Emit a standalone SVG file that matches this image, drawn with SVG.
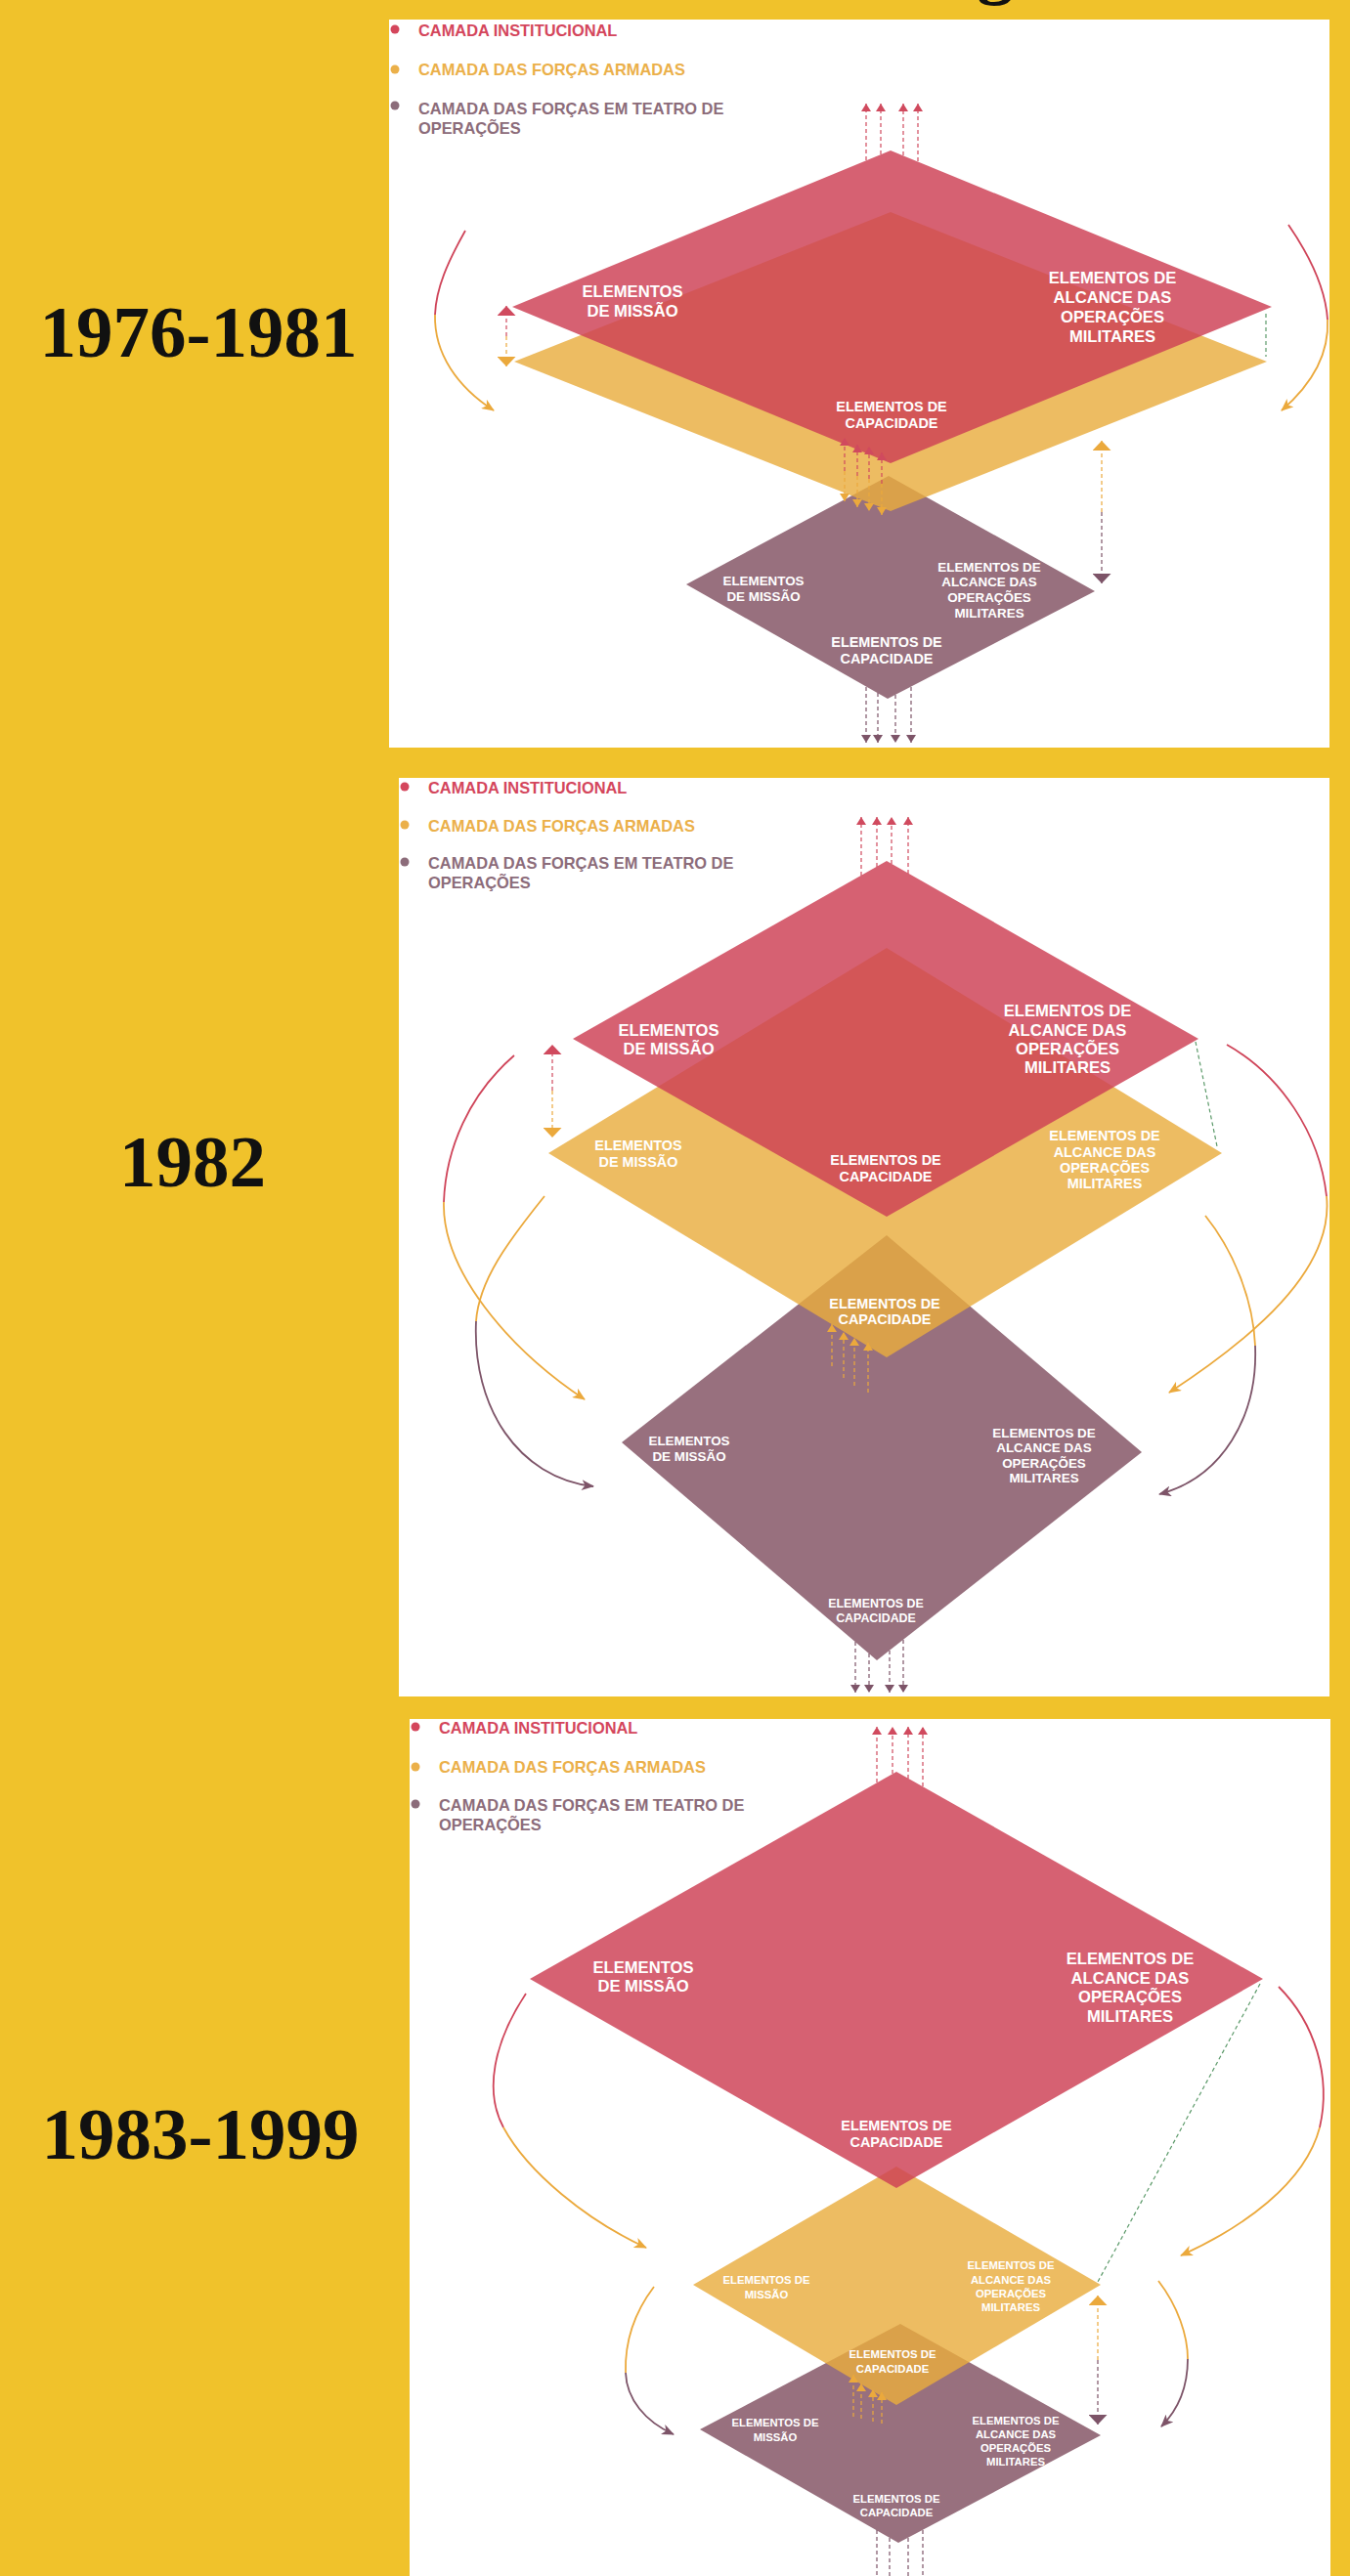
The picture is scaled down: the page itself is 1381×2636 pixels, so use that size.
<svg xmlns="http://www.w3.org/2000/svg" width="1381" height="2636" viewBox="0 0 1381 2636">
<style>
.year{font-family:"Liberation Serif","Times New Roman",serif;font-weight:bold;font-size:75px;fill:#111;text-anchor:middle}
.lg{font-family:"Liberation Sans",Arial,sans-serif;font-weight:bold;font-size:16.4px}
.lr{fill:#D4465C}.ly{fill:#EBB04A}.lp{fill:#8C6C7A}
.t{font-family:"Liberation Sans",Arial,sans-serif;font-weight:bold;fill:#fff;text-anchor:middle}
.s17{font-size:16.6px}.s14{font-size:14.4px}.s13{font-size:13.4px}.s12{font-size:12.4px}.s11{font-size:11.3px}
.red{fill:#CE4155;fill-opacity:.83}
.yel{fill:#E9AC3E;fill-opacity:.81}
.pur{fill:#98707E}
.dr{stroke:#D04A5E;stroke-width:1.2;stroke-dasharray:4 3;fill:none}
.dy{stroke:#EBA93C;stroke-width:1.2;stroke-dasharray:4 3;fill:none}
.dp{stroke:#7D5468;stroke-width:1.2;stroke-dasharray:4 3;fill:none}
.dg{stroke:#5C9A6A;stroke-width:1.2;stroke-dasharray:4 3;fill:none}
.cr{stroke:#CF4459;stroke-width:1.8;fill:none}
.cy{stroke:#EBA93C;stroke-width:1.8;fill:none}
.cp{stroke:#7D5468;stroke-width:1.8;fill:none}
</style>
<defs>
<marker id="sr" markerUnits="userSpaceOnUse" markerWidth="8" markerHeight="10" viewBox="0 0 8 10" refX="8" refY="5" orient="auto"><path d="M0,0 L8,5 L0,10 z" fill="#D04A5E"/></marker>
<marker id="sy" markerUnits="userSpaceOnUse" markerWidth="8" markerHeight="10" viewBox="0 0 8 10" refX="8" refY="5" orient="auto"><path d="M0,0 L8,5 L0,10 z" fill="#EBA93C"/></marker>
<marker id="sp" markerUnits="userSpaceOnUse" markerWidth="8" markerHeight="10" viewBox="0 0 8 10" refX="8" refY="5" orient="auto"><path d="M0,0 L8,5 L0,10 z" fill="#7D5468"/></marker>
<marker id="br" markerUnits="userSpaceOnUse" markerWidth="10" markerHeight="19" viewBox="0 0 10 19" refX="10" refY="9.5" orient="auto"><path d="M0,0 L10,9.5 L0,19 z" fill="#D04A5E"/></marker>
<marker id="by" markerUnits="userSpaceOnUse" markerWidth="10" markerHeight="19" viewBox="0 0 10 19" refX="10" refY="9.5" orient="auto"><path d="M0,0 L10,9.5 L0,19 z" fill="#EBA93C"/></marker>
<marker id="bp" markerUnits="userSpaceOnUse" markerWidth="10" markerHeight="19" viewBox="0 0 10 19" refX="10" refY="9.5" orient="auto"><path d="M0,0 L10,9.5 L0,19 z" fill="#7D5468"/></marker>
<marker id="ay" markerUnits="userSpaceOnUse" markerWidth="13" markerHeight="11" viewBox="0 0 13 11" refX="12" refY="5.5" orient="auto"><path d="M0,0 L13,5.5 L0,11 L3.5,5.5 z" fill="#EBA93C"/></marker>
<marker id="ap" markerUnits="userSpaceOnUse" markerWidth="13" markerHeight="11" viewBox="0 0 13 11" refX="12" refY="5.5" orient="auto"><path d="M0,0 L13,5.5 L0,11 L3.5,5.5 z" fill="#7D5468"/></marker>
</defs>
<rect x="0" y="0" width="1381" height="2636" fill="#F0C22B"/>
<text class="year" x="1018" y="-10">g</text>
<g id="panel-1976-1981">
<rect x="398" y="20" width="962" height="745" fill="#fff"/>
<text class="year" x="203" y="365">1976-1981</text>
<g id="legend1">
<circle cx="404" cy="30" r="4.5" fill="#D4465C"/><text class="lg lr" x="428" y="37">CAMADA INSTITUCIONAL</text>
<circle cx="404" cy="71" r="4.5" fill="#EBB04A"/><text class="lg ly" x="428" y="77">CAMADA DAS FORÇAS ARMADAS</text>
<circle cx="404" cy="108" r="4.5" fill="#8C6C7A"/><text class="lg lp" x="428" y="117">CAMADA DAS FORÇAS EM TEATRO DE</text><text class="lg lp" x="428" y="137">OPERAÇÕES</text>
</g>
<g id="p1-teatro"><polygon class="pur" points="909,487 1120,605 908,715 702,598"/>
<text class="t s13" x="781" y="599">ELEMENTOS</text><text class="t s13" x="781" y="615">DE MISSÃO</text>
<text class="t s13" x="1012" y="585">ELEMENTOS DE</text><text class="t s13" x="1012" y="600">ALCANCE DAS</text><text class="t s13" x="1012" y="616">OPERAÇÕES</text><text class="t s13" x="1012" y="632">MILITARES</text>
<text class="t s14" x="907" y="662">ELEMENTOS DE</text><text class="t s14" x="907" y="679">CAPACIDADE</text></g>
<g id="p1-forcas"><polygon class="yel" points="911,217 1296,370 911,523 526,370"/></g>
<g id="p1-institucional"><polygon class="red" points="911,154 1301,314 911,474 524,314"/>
<text class="t s17" x="647" y="304">ELEMENTOS</text><text class="t s17" x="647" y="324">DE MISSÃO</text>
<text class="t s17" x="1138" y="290">ELEMENTOS DE</text><text class="t s17" x="1138" y="310">ALCANCE DAS</text><text class="t s17" x="1138" y="330">OPERAÇÕES</text><text class="t s17" x="1138" y="350">MILITARES</text>
<text class="t s14" x="912" y="421">ELEMENTOS DE</text><text class="t s14" x="912" y="438">CAPACIDADE</text></g>
<g id="p1-connectors">
<line class="dr" x1="886" y1="164" x2="886" y2="106" marker-end="url(#sr)"/>
<line class="dr" x1="901" y1="158" x2="901" y2="106" marker-end="url(#sr)"/>
<line class="dr" x1="924" y1="159" x2="924" y2="106" marker-end="url(#sr)"/>
<line class="dr" x1="939" y1="165" x2="939" y2="106" marker-end="url(#sr)"/>
<line class="dr" x1="518" y1="344" x2="518" y2="313" marker-end="url(#br)"/>
<line class="dy" x1="518" y1="344" x2="518" y2="375" marker-end="url(#by)"/>
<line class="dg" x1="1295" y1="321" x2="1295" y2="365"/>
<path class="cr" d="M476,236 C458,268 446,295 445,322"/>
<path class="cy" d="M445,322 C444,362 468,396 505,420" marker-end="url(#ay)"/>
<path class="cr" d="M1318,230 C1340,262 1356,295 1358,327"/>
<path class="cy" d="M1358,327 C1360,365 1340,395 1311,420" marker-end="url(#ay)"/>
<line class="dr" x1="864" y1="482" x2="864" y2="448" marker-end="url(#sr)"/>
<line class="dy" x1="864" y1="482" x2="864" y2="513" marker-end="url(#sy)"/>
<line class="dr" x1="877" y1="487" x2="877" y2="455" marker-end="url(#sr)"/>
<line class="dy" x1="877" y1="487" x2="877" y2="519" marker-end="url(#sy)"/>
<line class="dr" x1="889" y1="490" x2="889" y2="457" marker-end="url(#sr)"/>
<line class="dy" x1="889" y1="490" x2="889" y2="523" marker-end="url(#sy)"/>
<line class="dr" x1="902" y1="495" x2="902" y2="463" marker-end="url(#sr)"/>
<line class="dy" x1="902" y1="495" x2="902" y2="527" marker-end="url(#sy)"/>
<line class="dy" x1="1127" y1="524" x2="1127" y2="451" marker-end="url(#by)"/>
<line class="dp" x1="1127" y1="524" x2="1127" y2="597" marker-end="url(#bp)"/>
<line class="dp" x1="886" y1="703" x2="886" y2="760" marker-end="url(#sp)"/>
<line class="dp" x1="898" y1="709" x2="898" y2="760" marker-end="url(#sp)"/>
<line class="dp" x1="916" y1="711" x2="916" y2="760" marker-end="url(#sp)"/>
<line class="dp" x1="932" y1="703" x2="932" y2="760" marker-end="url(#sp)"/>
</g>
</g>
<g id="panel-1982">
<rect x="408" y="796" width="952" height="940" fill="#fff"/>
<text class="year" x="197" y="1214">1982</text>
<g id="legend2">
<circle cx="414" cy="805" r="4.5" fill="#D4465C"/><text class="lg lr" x="438" y="812">CAMADA INSTITUCIONAL</text>
<circle cx="414" cy="844" r="4.5" fill="#EBB04A"/><text class="lg ly" x="438" y="851">CAMADA DAS FORÇAS ARMADAS</text>
<circle cx="414" cy="882" r="4.5" fill="#8C6C7A"/><text class="lg lp" x="438" y="889">CAMADA DAS FORÇAS EM TEATRO DE</text><text class="lg lp" x="438" y="909">OPERAÇÕES</text>
</g>
<g id="p2-teatro"><polygon class="pur" points="907,1264 1168,1486 897,1699 636,1476"/>
<text class="t s13" x="705" y="1479">ELEMENTOS</text><text class="t s13" x="705" y="1495">DE MISSÃO</text>
<text class="t s13" x="1068" y="1471">ELEMENTOS DE</text><text class="t s13" x="1068" y="1486">ALCANCE DAS</text><text class="t s13" x="1068" y="1502">OPERAÇÕES</text><text class="t s13" x="1068" y="1517">MILITARES</text>
<text class="t s12" x="896" y="1645">ELEMENTOS DE</text><text class="t s12" x="896" y="1660">CAPACIDADE</text></g>
<g id="p2-forcas"><polygon class="yel" points="907,970 1250,1180 907,1389 561,1180"/>
<text class="t s14" x="653" y="1177">ELEMENTOS</text><text class="t s14" x="653" y="1194">DE MISSÃO</text>
<text class="t s14" x="1130" y="1167">ELEMENTOS DE</text><text class="t s14" x="1130" y="1184">ALCANCE DAS</text><text class="t s14" x="1130" y="1200">OPERAÇÕES</text><text class="t s14" x="1130" y="1216">MILITARES</text>
<text class="t s14" x="905" y="1339">ELEMENTOS DE</text><text class="t s14" x="905" y="1355">CAPACIDADE</text></g>
<g id="p2-institucional"><polygon class="red" points="907,881 1226,1063 907,1245 586,1063"/>
<text class="t s17" x="684" y="1060">ELEMENTOS</text><text class="t s17" x="684" y="1079">DE MISSÃO</text>
<text class="t s17" x="1092" y="1040">ELEMENTOS DE</text><text class="t s17" x="1092" y="1060">ALCANCE DAS</text><text class="t s17" x="1092" y="1079">OPERAÇÕES</text><text class="t s17" x="1092" y="1098">MILITARES</text>
<text class="t s14" x="906" y="1192">ELEMENTOS DE</text><text class="t s14" x="906" y="1209">CAPACIDADE</text></g>
<g id="p2-connectors">
<line class="dr" x1="881" y1="896" x2="881" y2="836" marker-end="url(#sr)"/>
<line class="dr" x1="897" y1="887" x2="897" y2="836" marker-end="url(#sr)"/>
<line class="dr" x1="912" y1="884" x2="912" y2="836" marker-end="url(#sr)"/>
<line class="dr" x1="929" y1="894" x2="929" y2="836" marker-end="url(#sr)"/>
<line class="dr" x1="565" y1="1116" x2="565" y2="1069" marker-end="url(#br)"/>
<line class="dy" x1="565" y1="1116" x2="565" y2="1164" marker-end="url(#by)"/>
<line class="dg" x1="1223" y1="1066" x2="1245" y2="1173"/>
<path class="cr" d="M526,1080 C480,1120 456,1175 454,1230"/>
<path class="cy" d="M454,1230 C452,1300 520,1380 598,1432" marker-end="url(#ay)"/>
<path class="cy" d="M557,1224 C520,1270 490,1310 487,1352"/>
<path class="cp" d="M487,1352 C483,1440 530,1512 607,1521" marker-end="url(#ap)"/>
<path class="cr" d="M1255,1069 C1310,1100 1350,1160 1357,1224"/>
<path class="cy" d="M1357,1224 C1365,1300 1280,1370 1196,1425" marker-end="url(#ay)"/>
<path class="cy" d="M1233,1244 C1262,1280 1282,1330 1284,1377"/>
<path class="cp" d="M1284,1377 C1287,1450 1250,1512 1186,1529" marker-end="url(#ap)"/>
<line class="dy" x1="851" y1="1398" x2="851" y2="1355" marker-end="url(#sy)"/>
<line class="dy" x1="863" y1="1410" x2="863" y2="1363" marker-end="url(#sy)"/>
<line class="dy" x1="874" y1="1418" x2="874" y2="1369" marker-end="url(#sy)"/>
<line class="dy" x1="888" y1="1425" x2="888" y2="1374" marker-end="url(#sy)"/>
<line class="dp" x1="875" y1="1680" x2="875" y2="1732" marker-end="url(#sp)"/>
<line class="dp" x1="889" y1="1692" x2="889" y2="1732" marker-end="url(#sp)"/>
<line class="dp" x1="910" y1="1689" x2="910" y2="1732" marker-end="url(#sp)"/>
<line class="dp" x1="924" y1="1678" x2="924" y2="1732" marker-end="url(#sp)"/>
</g>
</g>
<g id="panel-1983-1999">
<rect x="419" y="1759" width="942" height="877" fill="#fff"/>
<text class="year" x="205" y="2209">1983-1999</text>
<g id="legend3">
<circle cx="425" cy="1767" r="4.5" fill="#D4465C"/><text class="lg lr" x="449" y="1774">CAMADA INSTITUCIONAL</text>
<circle cx="425" cy="1808" r="4.5" fill="#EBB04A"/><text class="lg ly" x="449" y="1814">CAMADA DAS FORÇAS ARMADAS</text>
<circle cx="425" cy="1846" r="4.5" fill="#8C6C7A"/><text class="lg lp" x="449" y="1853">CAMADA DAS FORÇAS EM TEATRO DE</text><text class="lg lp" x="449" y="1873">OPERAÇÕES</text>
</g>
<g id="p3-teatro"><polygon class="pur" points="921,2378 1126,2492 919,2602 716,2486"/>
<text class="t s11" x="793" y="2483">ELEMENTOS DE</text><text class="t s11" x="793" y="2498">MISSÃO</text>
<text class="t s11" x="1039" y="2481">ELEMENTOS DE</text><text class="t s11" x="1039" y="2495">ALCANCE DAS</text><text class="t s11" x="1039" y="2509">OPERAÇÕES</text><text class="t s11" x="1039" y="2523">MILITARES</text>
<text class="t s11" x="917" y="2561">ELEMENTOS DE</text><text class="t s11" x="917" y="2575">CAPACIDADE</text></g>
<g id="p3-forcas"><polygon class="yel" points="917,2217 1126,2338 917,2461 709,2338"/>
<text class="t s11" x="784" y="2337">ELEMENTOS DE</text><text class="t s11" x="784" y="2352">MISSÃO</text>
<text class="t s11" x="1034" y="2322">ELEMENTOS DE</text><text class="t s11" x="1034" y="2337">ALCANCE DAS</text><text class="t s11" x="1034" y="2351">OPERAÇÕES</text><text class="t s11" x="1034" y="2365">MILITARES</text>
<text class="t s11" x="913" y="2413">ELEMENTOS DE</text><text class="t s11" x="913" y="2428">CAPACIDADE</text></g>
<g id="p3-institucional"><polygon class="red" points="917,1813 1292,2025 917,2239 542,2025"/>
<text class="t s17" x="658" y="2019">ELEMENTOS</text><text class="t s17" x="658" y="2038">DE MISSÃO</text>
<text class="t s17" x="1156" y="2010">ELEMENTOS DE</text><text class="t s17" x="1156" y="2030">ALCANCE DAS</text><text class="t s17" x="1156" y="2049">OPERAÇÕES</text><text class="t s17" x="1156" y="2069">MILITARES</text>
<text class="t s14" x="917" y="2180">ELEMENTOS DE</text><text class="t s14" x="917" y="2197">CAPACIDADE</text></g>
<g id="p3-connectors">
<line class="dr" x1="897" y1="1824" x2="897" y2="1767" marker-end="url(#sr)"/>
<line class="dr" x1="913" y1="1815" x2="913" y2="1767" marker-end="url(#sr)"/>
<line class="dr" x1="929" y1="1820" x2="929" y2="1767" marker-end="url(#sr)"/>
<line class="dr" x1="944" y1="1828" x2="944" y2="1767" marker-end="url(#sr)"/>
<line class="dg" x1="1289" y1="2030" x2="1123" y2="2335"/>
<path class="cr" d="M538,2040 C505,2090 495,2140 515,2177"/>
<path class="cy" d="M515,2177 C540,2223 600,2272 661,2300" marker-end="url(#ay)"/>
<path class="cy" d="M669,2340 C650,2365 639,2395 640,2428"/>
<path class="cp" d="M640,2428 C641,2455 660,2478 689,2491" marker-end="url(#ap)"/>
<path class="cr" d="M1308,2033 C1345,2070 1362,2125 1350,2177"/>
<path class="cy" d="M1350,2177 C1335,2235 1270,2280 1208,2308" marker-end="url(#ay)"/>
<path class="cy" d="M1185,2334 C1205,2360 1215,2390 1215,2414"/>
<path class="cp" d="M1215,2414 C1215,2445 1205,2466 1188,2483" marker-end="url(#ap)"/>
<line class="dy" x1="1123" y1="2415" x2="1123" y2="2349" marker-end="url(#by)"/>
<line class="dp" x1="1123" y1="2415" x2="1123" y2="2481" marker-end="url(#bp)"/>
<line class="dy" x1="873" y1="2473" x2="873" y2="2430" marker-end="url(#sy)"/>
<line class="dy" x1="881" y1="2475" x2="881" y2="2439" marker-end="url(#sy)"/>
<line class="dy" x1="893" y1="2478" x2="893" y2="2445" marker-end="url(#sy)"/>
<line class="dy" x1="902" y1="2480" x2="902" y2="2448" marker-end="url(#sy)"/>
<line class="dp" x1="897" y1="2589" x2="897" y2="2636"/>
<line class="dp" x1="910" y1="2597" x2="910" y2="2636"/>
<line class="dp" x1="929" y1="2597" x2="929" y2="2636"/>
<line class="dp" x1="944" y1="2589" x2="944" y2="2636"/>
</g>
</g>
</svg>
